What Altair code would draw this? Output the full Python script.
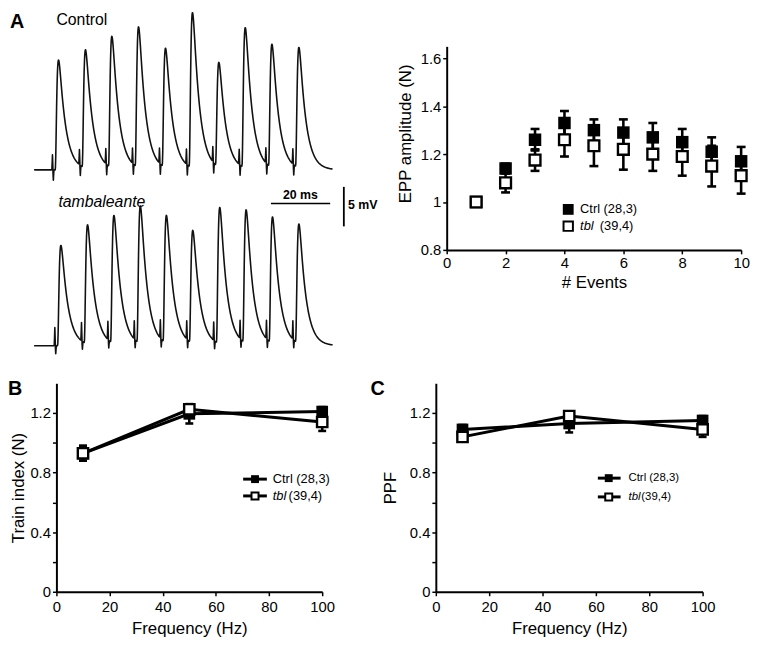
import numpy as np
import pandas as pd
import altair as alt

FONT = "Liberation Sans"

# ------------------------------------------------------------------
# Panel A (left): example EPP trains
# ------------------------------------------------------------------
stim_ms_ctrl = [6.0, 15.1, 24.0, 33.0, 42.1, 51.2, 60.1, 69.0, 78.0, 87.1]
peak_mv_ctrl = [13.9, 15.2, 16.9, 18.1, 15.4, 19.9, 13.6, 18.0, 15.9, 15.5]
stim_ms_tbl = [6.8, 15.8, 24.7, 33.6, 42.4, 51.3, 60.4, 69.3, 78.2, 87.1]
peak_mv_tbl = [12.7, 15.3, 16.5, 17.7, 16.5, 14.6, 17.5, 17.2, 16.3, 15.4]
artifact_mv_ctrl = [1.9, -1.3]
artifact_mv_tbl = [2.3, -1.0]
TRACE_LEN_MS = 100.3
SCALE_BAR_MS = 20
SCALE_BAR_MV = 5

# ------------------------------------------------------------------
# Panel A (right): EPP amplitude (normalised) vs event number
# ------------------------------------------------------------------
events = [1, 2, 3, 4, 5, 6, 7, 8, 9, 10]
epp_ctrl = [1.00, 1.14, 1.26, 1.33, 1.30, 1.29, 1.27, 1.25, 1.21, 1.17]
epp_ctrl_sem = [0.0, 0.02, 0.045, 0.05, 0.045, 0.055, 0.06, 0.055, 0.06, 0.06]
epp_tbl = [1.00, 1.08, 1.175, 1.26, 1.235, 1.22, 1.20, 1.19, 1.15, 1.11]
epp_tbl_sem = [0.0, 0.04, 0.045, 0.07, 0.085, 0.085, 0.07, 0.08, 0.085, 0.075]

# ------------------------------------------------------------------
# Panels B and C
# ------------------------------------------------------------------
freq_hz = [10, 50, 100]
train_ctrl = [0.93, 1.195, 1.21]
train_ctrl_sem = [0.05, 0.065, 0.03]
train_tbl = [0.93, 1.225, 1.14]
train_tbl_sem = [0.05, 0.03, 0.06]
ppf_ctrl = [1.09, 1.13, 1.15]
ppf_ctrl_sem = [0.03, 0.06, 0.03]
ppf_tbl = [1.04, 1.18, 1.09]
ppf_tbl_sem = [0.03, 0.03, 0.05]

label_ctrl = "Ctrl (28,3)"
label_tbl = "tbl"
label_tbl_n = "(39,4)"

# ------------------------------------------------------------------
# layout (pixels)
# ------------------------------------------------------------------
TR_W, TR_H = 281, 206
A_W, A_H = 298, 206
ROW1_GAP = 114
B_W, B_H = 269, 211
C_W, C_H = 270, 211
ROW2_GAP = 115
ROWS_GAP = 25

PX_PER_MS = 3.0
PX_PER_MV = 8.0
CTRL_OFFSET_MV = 22.25      # vertical stacking of the two traces
TR_X_DOMAIN = [22 / PX_PER_MS, 22 / PX_PER_MS + TR_W / PX_PER_MS]
TR_Y_DOMAIN = [97 / PX_PER_MV, 97 / PX_PER_MV + TR_H / PX_PER_MV]

# ------------------------------------------------------------------
# trace waveform: EPP kinetics with measured peak heights
# ------------------------------------------------------------------
ONSET, TAU_R, N_R, TAU_D = 0.9, 0.4, 3, 2.2


def kernel(x):
    s = np.clip(np.asarray(x, dtype=float) - ONSET, 0, None)
    return (1 - np.exp(-s / TAU_R)) ** N_R * np.exp(-s / TAU_D)


_s = np.linspace(0, 10, 20001)
_k = kernel(_s)
K_MAX = _k.max()
T_PEAK = _s[_k.argmax()]


def build_trace(stims, heights, art):
    amps = []
    for i, (s, h) in enumerate(zip(stims, heights)):
        resid = sum(a * kernel(s + T_PEAK - sj) / K_MAX for a, sj in zip(amps, stims[:i]))
        amps.append(h - float(resid))
    t = np.unique(np.round(np.concatenate([
        np.arange(0, TRACE_LEN_MS + 1e-9, 0.1),
        np.array(stims), np.array(stims) + 0.3]), 3))
    v = np.zeros_like(t)
    for a, s in zip(amps, stims):
        v += a * kernel(t - s) / K_MAX
        v += art[0] * np.exp(-0.5 * ((t - s) / 0.08) ** 2)
        v += art[1] * np.exp(-0.5 * ((t - s - 0.3) / 0.08) ** 2)
    return t, v


t_c, v_c = build_trace(stim_ms_ctrl, peak_mv_ctrl, artifact_mv_ctrl)
t_t, v_t = build_trace(stim_ms_tbl, peak_mv_tbl, artifact_mv_tbl)
traces_df = pd.concat([
    pd.DataFrame({"t": t_c, "v": np.round(v_c + CTRL_OFFSET_MV, 3), "trace": "Control"}),
    pd.DataFrame({"t": t_t, "v": np.round(v_t, 3), "trace": "tambaleante"}),
])

tr_xs = alt.Scale(domain=TR_X_DOMAIN, nice=False, zero=False)
tr_ys = alt.Scale(domain=TR_Y_DOMAIN, nice=False, zero=False)

trace_line = alt.Chart(traces_df).mark_line(
    color="#111111", strokeWidth=1.6, strokeJoin="round", strokeCap="round"
).encode(
    x=alt.X("t:Q", scale=tr_xs, axis=None),
    y=alt.Y("v:Q", scale=tr_ys, axis=None),
    detail="trace:N",
)

SB_T0, SB_V = 79.7, 18.0      # scale-bar placement (ms, mV)
SB_TV, SB_V0 = 104.3, 15.1
hbar_df = pd.DataFrame({"t": [SB_T0], "t2": [SB_T0 + SCALE_BAR_MS], "v": [SB_V]})
vbar_df = pd.DataFrame({"t": [SB_TV], "v": [SB_V0], "v2": [SB_V0 + SCALE_BAR_MV]})
hbar = alt.Chart(hbar_df).mark_rule(color="black", strokeWidth=1.6).encode(
    x=alt.X("t:Q", scale=tr_xs, axis=None), x2="t2:Q",
    y=alt.Y("v:Q", scale=tr_ys, axis=None))
vbar = alt.Chart(vbar_df).mark_rule(color="black", strokeWidth=1.8).encode(
    x=alt.X("t:Q", scale=tr_xs, axis=None),
    y=alt.Y("v:Q", scale=tr_ys, axis=None), y2="v2:Q")

one = pd.DataFrame({"k": [0]})


def txt(text, x, y, size, weight="normal", style="normal", align="left", baseline="top"):
    return alt.Chart(one).mark_text(
        text=text, font=FONT, fontSize=size, fontWeight=weight, fontStyle=style,
        align=align, baseline=baseline, color="black",
    ).encode(x=alt.value(x), y=alt.value(y))


traces_panel = alt.layer(
    trace_line, hbar, vbar,
    txt("A", -47, -35, 20, weight="bold"),
    txt("Control", 0, -35, 16),
    txt("tambaleante", 2, 150, 16, style="italic"),
    txt(f"{SCALE_BAR_MS} ms", 247, 157, 12.5, weight="bold", align="center", baseline="bottom"),
    txt(f"{SCALE_BAR_MV} mV", 295, 161, 12.5, weight="bold", baseline="middle"),
).properties(width=TR_W, height=TR_H)


# ------------------------------------------------------------------
# helpers for the summary plots
# ------------------------------------------------------------------
def series_df(x, m, s):
    return pd.DataFrame({
        "x": x, "m": m,
        "lo": [a - b for a, b in zip(m, s)],
        "hi": [a + b for a, b in zip(m, s)],
    })


def err_layers(df, xs, xa, ys, ya, cap):
    base = alt.Chart(df)
    X = alt.X("x:Q", scale=xs, axis=xa)
    out = [base.mark_rule(color="black", strokeWidth=2.6).encode(
        x=X, y=alt.Y("lo:Q", scale=ys, axis=ya), y2="hi:Q")]
    for f in ("lo", "hi"):
        out.append(base.mark_tick(orient="horizontal", color="black", size=cap,
                                  thickness=2.6, opacity=1).encode(
            x=X, y=alt.Y(f"{f}:Q", scale=ys, axis=ya)))
    return out


def square_layer(df, xs, xa, ys, ya, filled, size):
    base = alt.Chart(df)
    if filled:
        mk = base.mark_square(color="black", size=size, opacity=1)
    else:
        mk = base.mark_square(fill="white", stroke="black", strokeWidth=2.4,
                              size=size, opacity=1)
    return mk.encode(x=alt.X("x:Q", scale=xs, axis=xa),
                     y=alt.Y("m:Q", scale=ys, axis=ya))


def line_layer(df, xs, xa, ys, ya):
    return alt.Chart(df).mark_line(color="black", strokeWidth=3).encode(
        x=alt.X("x:Q", scale=xs, axis=xa), y=alt.Y("m:Q", scale=ys, axis=ya))


def leg_square(x, y, filled, size):
    if filled:
        mk = alt.Chart(one).mark_square(color="black", size=size, opacity=1)
    else:
        mk = alt.Chart(one).mark_square(fill="white", stroke="black", strokeWidth=2,
                                        size=size, opacity=1)
    return mk.encode(x=alt.value(x), y=alt.value(y))


def leg_line(x0, x1, y):
    return alt.Chart(one).mark_rule(color="black", strokeWidth=3).encode(
        x=alt.value(x0), x2=alt.value(x1), y=alt.value(y))


# ------------------------------------------------------------------
# Panel A (right)
# ------------------------------------------------------------------
a_xs = alt.Scale(domain=[0, 10], nice=False, zero=False)
a_ys = alt.Scale(domain=[0.8, 1.65], nice=False, zero=False)
a_xa = alt.Axis(values=[0, 2, 4, 6, 8, 10], title="# Events")
a_ya = alt.Axis(values=[0.8, 1.0, 1.2, 1.4, 1.6], format="~g",
                title="EPP amplitude (N)", titleY=88, titleAlign="center",
                titlePadding=6)

dA_c = series_df(events, epp_ctrl, epp_ctrl_sem)
dA_t = series_df(events, epp_tbl, epp_tbl_sem)

panel_A = alt.layer(
    *err_layers(dA_c, a_xs, a_xa, a_ys, a_ya, 9),
    square_layer(dA_c, a_xs, a_xa, a_ys, a_ya, True, 160),
    *err_layers(dA_t, a_xs, a_xa, a_ys, a_ya, 9),
    square_layer(dA_t, a_xs, a_xa, a_ys, a_ya, False, 120),
    leg_square(123, 165, True, 120),
    leg_square(123, 182, False, 90),
    txt(label_ctrl, 135, 165, 13, baseline="middle"),
    txt(label_tbl, 135, 182, 13, style="italic", baseline="middle"),
    txt(label_tbl_n, 155, 182, 13, baseline="middle"),
).properties(width=A_W, height=A_H)

# ------------------------------------------------------------------
# Panels B and C
# ------------------------------------------------------------------
f_xs = alt.Scale(domain=[0, 100], nice=False, zero=False)
f_ys = alt.Scale(domain=[0, 1.4], nice=False, zero=False)
f_xa = alt.Axis(values=[0, 20, 40, 60, 80, 100], title="Frequency (Hz)",
                labelPadding=4, titlePadding=6)
LBL = ("(datum.value == 0 || datum.value == 0.4 || datum.value == 0.8 || "
       "datum.value == 1.2) ? format(datum.value, '~g') : ''")
b_ya = alt.Axis(values=[0, 0.2, 0.4, 0.6, 0.8, 1.0, 1.2], labelExpr=LBL,
                title="Train index (N)", titlePadding=2)
c_ya = alt.Axis(values=[0, 0.2, 0.4, 0.6, 0.8, 1.0, 1.2], labelExpr=LBL,
                title="PPF", titlePadding=10)


def freq_panel(mc, sc, mt, st, ya, letter, leg, w, h):
    dc = series_df(freq_hz, mc, sc)
    dt = series_df(freq_hz, mt, st)
    lx0, lx1, lsq, ltx, ltn, ly0, ly1, fs, lx = leg
    return alt.layer(
        line_layer(dc, f_xs, f_xa, f_ys, ya),
        line_layer(dt, f_xs, f_xa, f_ys, ya),
        *err_layers(dc, f_xs, f_xa, f_ys, ya, 8),
        square_layer(dc, f_xs, f_xa, f_ys, ya, True, 140),
        *err_layers(dt, f_xs, f_xa, f_ys, ya, 8),
        square_layer(dt, f_xs, f_xa, f_ys, ya, False, 110),
        txt(letter, lx, -4, 20, weight="bold"),
        leg_line(lx0, lx1, ly0),
        leg_square(lsq, ly0, True, 64),
        leg_line(lx0, lx1, ly1),
        leg_square(lsq, ly1, False, 50),
        txt(label_ctrl, ltx, ly0, fs, baseline="middle"),
        txt(label_tbl, ltx, ly1, fs, style="italic", baseline="middle"),
        txt(label_tbl_n, ltn, ly1, fs, baseline="middle"),
    ).properties(width=w, height=h)


panel_B = freq_panel(train_ctrl, train_ctrl_sem, train_tbl, train_tbl_sem, b_ya, "B",
                     (189, 213, 201, 219, 235, 97, 114, 13, -49), B_W, B_H)
panel_C = freq_panel(ppf_ctrl, ppf_ctrl_sem, ppf_tbl, ppf_tbl_sem, c_ya, "C",
                     (164, 187, 175, 195, 208, 96, 115, 11.5, -66), C_W, C_H)

row1 = alt.hconcat(traces_panel, panel_A, spacing=ROW1_GAP, bounds="flush")
row2 = alt.hconcat(panel_B, panel_C, spacing=ROW2_GAP, bounds="flush")

chart = alt.vconcat(row1, row2, spacing=ROWS_GAP, bounds="full").properties(
    padding={"left": 0, "top": 0, "right": 0, "bottom": 0},
    autosize=alt.AutoSizeParams(type="pad"),
    background="white",
).configure(font=FONT).configure_axis(
    domainColor="black", domainWidth=2, tickColor="black", tickWidth=1.5, tickSize=4,
    labelColor="black", labelFontSize=15, labelFont=FONT, labelPadding=2,
    labelFlush=False, labelOverlap=False,
    titleFont=FONT, titleFontSize=17, titleFontWeight="normal", titleColor="black",
    titlePadding=4, grid=False,
).configure_view(stroke=None)

chart.save("out.html", embed_options={"renderer": "svg", "actions": False})
